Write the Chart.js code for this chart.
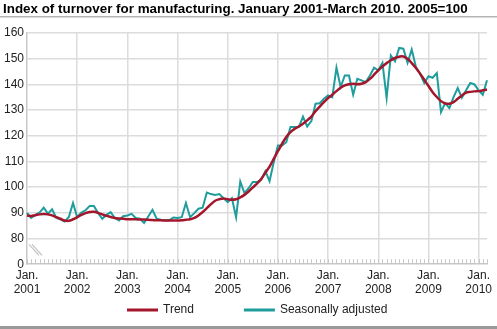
<!DOCTYPE html>
<html>
<head>
<meta charset="utf-8">
<script src="https://cdn.jsdelivr.net/npm/chart.js@4.4.1/dist/chart.umd.min.js"></script>
<style>
  html, body { margin: 0; padding: 0; background: #fff; }
  #wrap { width: 497px; height: 329px; position: relative; }
</style>
</head>
<body>
<div id="wrap"><canvas id="chart"></canvas></div>
<script>
// monthly, January 2001 - March 2010
var years = ['2001', '2002', '2003', '2004', '2005', '2006', '2007', '2008', '2009', '2010'];
var monthsInLastYear = 3;

var trend = [
    89, 88.8, 89.1, 89.4, 89.5, 89.4, 89, 88.3, 87.7, 87, 86.9, 87.5,
    88.3, 89.2, 89.9, 90.3, 90.4, 90, 89.4, 88.8, 88.4, 88, 87.8, 87.7,
    87.5, 87.5, 87.5, 87.4, 87.4, 87.3, 87.2, 87.1, 87.1, 87, 87, 87,
    87, 87.1, 87.3, 87.5, 88, 89, 90.3, 91.8, 93.4, 94.7, 95.3, 95.6,
    95.3, 95.1, 95.3, 96, 97, 98.3, 99.9, 101.4, 103.2, 105.6, 108, 111,
    114, 116.9, 119.5, 121.4, 122.7, 123.6, 124.7, 126, 127.5, 129.6, 131.4, 133.1,
    134.7, 136, 137.4, 138.7, 139.6, 140.1, 140.3, 140.1, 140.3, 140.9, 142.2, 143.8,
    145.5, 147, 148.3, 149.4, 150.3, 150.8, 150.9, 150, 148.3, 146.4, 144.2, 141.8,
    139.4, 137, 135.1, 133.5, 132.6, 132.5, 133.1, 134.4, 135.7, 136.8, 137.1, 137.3,
    137.4, 137.7, 138
];

var seasAdj = [
    90, 88, 89.2, 90.1, 92, 89.7, 91.4, 88, 87.5, 86.6, 88.4, 93.8,
    88.3, 90.1, 91, 92.7, 92.7, 89.9, 87.7, 89.2, 90.3, 88, 87, 88.7,
    89, 89.6, 88, 87.7, 86.1, 88.6, 91.2, 87.7, 87.3, 87.1, 87.1, 88.2,
    88, 88.3, 93.8, 88.3, 89.9, 91.6, 92, 97.9, 97.3, 97, 97.3, 95.7,
    94.2, 95.7, 88.3, 102.2, 97.7, 99.6, 102, 102, 102.9, 106.2, 102.3, 109.7,
    116.2, 116.2, 117.5, 123.4, 123.4, 123.4, 127.5, 123.6, 125.7, 132.5, 132.7, 134.4,
    135.7, 135, 146.5, 139, 143.5, 143.5, 136, 142.2, 141.6, 140.9, 143.5, 146.5,
    145.5, 148.4, 134.7, 151.3, 149, 154.2, 153.9, 148.4, 153.6, 146.8, 144.2, 140.5,
    143.2, 142.6, 144.4, 129.2, 132.7, 130.8, 135.1, 138.6, 134.8, 137.7, 140.6, 140,
    137.7, 136, 141.6
];

// y axis is broken: the bottom step stands for 0-80
var yTicks = [0, 80, 90, 100, 110, 120, 130, 140, 150, 160];
var yBreakValue = 70;

var labels = [];
years.forEach(function (y, yi) {
    var n = (yi === years.length - 1) ? monthsInLastYear : 12;
    for (var m = 0; m < n; m++) {
        labels.push(m === 0 ? ['Jan.', y] : '');
    }
});

var gridColor = '#dcdcdc';
var fontFamily = '"Liberation Sans", Arial, sans-serif';

// month tick marks, axis break, legend and the grey rules
var extras = {
    id: 'extras',
    beforeDatasetsDraw: function (chart) {
        var ctx = chart.ctx, area = chart.chartArea, xs = chart.scales.x, ys = chart.scales.y;
        ctx.save();
        ctx.strokeStyle = '#c8c8c8';
        ctx.lineWidth = 1;
        for (var i = 0; i < labels.length; i++) {
            var px = Math.round(xs.getPixelForValue(i)) + 0.5;
            ctx.beginPath();
            ctx.moveTo(px, area.bottom);
            ctx.lineTo(px, area.bottom - 5);
            ctx.stroke();
        }
        // break marks
        var cy = ys.getPixelForValue(75);
        ctx.strokeStyle = '#c4c4c4';
        ctx.lineWidth = 1.3;
        [0, 3].forEach(function (d) {
            ctx.beginPath();
            ctx.moveTo(area.left + 2 + d, cy - 7);
            ctx.lineTo(area.left + 12 + d, cy + 4);
            ctx.stroke();
        });
        ctx.restore();
    },
    afterDraw: function (chart) {
        var ctx = chart.ctx, area = chart.chartArea;
        ctx.save();
        ctx.fillStyle = '#b4b4b4';
        ctx.fillRect(0, 16, chart.width, 1.5);
        ctx.fillStyle = '#999';
        ctx.fillRect(0, chart.height - 3, chart.width, 3);

        // legend
        var sample = 31, gapText = 5, gapItem = 50, y = 310;
        ctx.font = '12px ' + fontFamily;
        ctx.textBaseline = 'middle';
        var sets = chart.data.datasets;
        var total = 0;
        sets.forEach(function (ds, i) {
            total += sample + gapText + ctx.measureText(ds.label).width + (i > 0 ? gapItem : 0);
        });
        var x = Math.round((area.left + area.right) / 2 - total / 2);
        sets.forEach(function (ds) {
            ctx.fillStyle = ds.borderColor;
            ctx.fillRect(x, y - 1.5, sample, 3);
            ctx.fillStyle = '#222';
            ctx.fillText(ds.label, x + sample + gapText, y);
            x += sample + gapText + ctx.measureText(ds.label).width + gapItem;
        });
        ctx.restore();
    }
};

Chart.defaults.font.family = fontFamily;
Chart.defaults.color = '#222';

new Chart(document.getElementById('chart'), {
    type: 'line',
    data: {
        labels: labels,
        datasets: [
            {
                label: 'Trend',
                data: trend,
                borderColor: '#a3162b',
                backgroundColor: '#a3162b',
                borderWidth: 2.5,
                pointRadius: 0,
                tension: 0.4,
                order: 1
            },
            {
                label: 'Seasonally adjusted',
                data: seasAdj,
                borderColor: '#1f9c9c',
                backgroundColor: '#1f9c9c',
                borderWidth: 2,
                pointRadius: 0,
                tension: 0,
                order: 2
            }
        ]
    },
    options: {
        responsive: true,
        maintainAspectRatio: false,
        devicePixelRatio: 1,
        animation: false,
        layout: { padding: { left: 3, right: 10, top: 0, bottom: 28 } },
        plugins: {
            title: {
                display: true,
                text: 'Index of turnover for manufacturing. January 2001-March 2010. 2005=100',
                align: 'start',
                color: '#000',
                font: { size: 13.4, weight: 'bold' },
                padding: { top: 1, bottom: 16 }
            },
            legend: { display: false },
            tooltip: { enabled: false }
        },
        scales: {
            x: {
                offset: false,
                grid: {
                    drawTicks: false,
                    lineWidth: 1.5,
                    color: function (c) {
                        return (c.index % 12 === 0 && c.index > 0) ? gridColor : 'rgba(0,0,0,0)';
                    }
                },
                border: { color: '#c8c8c8', width: 1.5 },
                ticks: {
                    autoSkip: false,
                    maxRotation: 0,
                    padding: 4,
                    font: { size: 12 },
                    color: '#222'
                }
            },
            y: {
                min: yBreakValue,
                max: 160,
                afterFit: function (s) { s.width = 24; },
                afterBuildTicks: function (s) {
                    s.ticks = yTicks.map(function (v) { return { value: v === 0 ? yBreakValue : v }; });
                },
                grid: {
                    drawTicks: false,
                    lineWidth: 1.5,
                    color: function (c) { return c.index === 0 ? 'rgba(0,0,0,0)' : gridColor; }
                },
                border: { color: '#c8c8c8', width: 1.5 },
                ticks: {
                    padding: 3,
                    font: { size: 12 },
                    color: '#222',
                    callback: function (v) { return v === yBreakValue ? '0' : v; }
                }
            }
        }
    },
    plugins: [extras]
});
</script>
</body>
</html>
